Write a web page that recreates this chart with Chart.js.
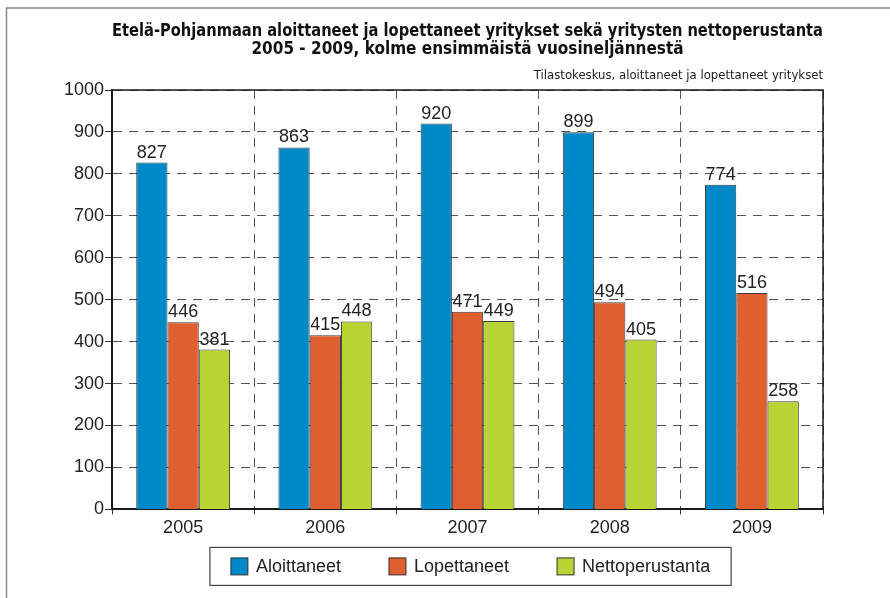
<!DOCTYPE html>
<html lang="fi">
<head>
  <meta charset="UTF-8">
  <title>Etelä-Pohjanmaan aloittaneet ja lopettaneet yritykset</title>
  <script src="https://cdn.jsdelivr.net/npm/chart.js"></script>
  <style>
    html, body { margin: 0; padding: 0; background: white; }
    #wrap { width: 890px; height: 598px; }
  </style>
</head>
<body>
  <div id="wrap"><canvas id="chart"></canvas></div>

  <script>
    const years = ['2005', '2006', '2007', '2008', '2009'];
    const aloittaneet = [827, 863, 920, 899, 774];
    const lopettaneet = [446, 415, 471, 494, 516];
    const nettoperustanta = [381, 448, 449, 405, 258];
    const seriesNames = ['Aloittaneet', 'Lopettaneet', 'Nettoperustanta'];
    const seriesColors = ['#0089c9', '#e05f30', '#b7d334'];

    const FONT = "'Liberation Sans', Arial, sans-serif";
    const NARROW = "'Liberation Sans Narrow', 'Arial Narrow', 'DejaVu Sans Condensed', sans-serif";

    // page frame (grey lines top + left) and white background
    const pageFrame = {
      id: 'pageFrame',
      beforeDraw(chart) {
        const ctx = chart.ctx;
        ctx.save();
        ctx.fillStyle = 'white';
        ctx.fillRect(0, 0, chart.width, chart.height);
        ctx.strokeStyle = '#8a8a8a';
        ctx.lineWidth = 1.5;
        ctx.beginPath();
        ctx.moveTo(6.5, chart.height);
        ctx.lineTo(6.5, 8);
        ctx.lineTo(chart.width, 8);
        ctx.stroke();
        ctx.restore();
      }
    };

    // top + right border of the plot
    const plotFrame = {
      id: 'plotFrame',
      beforeDatasetsDraw(chart) {
        const { ctx, chartArea: a } = chart;
        ctx.save();
        ctx.strokeStyle = '#1a1a1a';
        ctx.lineWidth = 1.5;
        ctx.beginPath();
        ctx.moveTo(a.left, a.top);
        ctx.lineTo(a.right, a.top);
        ctx.lineTo(a.right, a.bottom);
        ctx.stroke();
        ctx.restore();
      }
    };

    const valueLabels = {
      id: 'valueLabels',
      afterDatasetsDraw(chart) {
        const ctx = chart.ctx;
        ctx.save();
        ctx.font = '18px ' + FONT;
        ctx.fillStyle = '#222';
        ctx.textAlign = 'center';
        ctx.textBaseline = 'bottom';
        chart.data.datasets.forEach((ds, i) => {
          chart.getDatasetMeta(i).data.forEach((bar, j) => {
            ctx.fillText(ds.data[j], bar.x, bar.y - 1);
          });
        });
        ctx.restore();
      }
    };

    // boxed legend under the x axis
    const boxLegend = {
      id: 'boxLegend',
      afterDraw(chart) {
        const { ctx, chartArea: a } = chart;
        const sq = 17, gapText = 8, gapItem = 48, padX = 21;
        ctx.save();
        ctx.font = '18px ' + FONT;
        const items = chart.data.datasets.map(ds => ({
          text: ds.label, color: ds.backgroundColor, w: ctx.measureText(ds.label).width
        }));
        let content = items.reduce((s, it) => s + sq + gapText + it.w, 0) + gapItem * (items.length - 1);
        const boxW = content + padX * 2;
        const boxH = 38;
        const boxX = (a.left + a.right) / 2 - boxW / 2 + 3;
        const boxY = a.bottom + 38;
        ctx.strokeStyle = '#444';
        ctx.lineWidth = 1.2;
        ctx.strokeRect(boxX, boxY, boxW, boxH);
        let x = boxX + padX;
        const cy = boxY + boxH / 2;
        items.forEach(it => {
          ctx.fillStyle = it.color;
          ctx.fillRect(x, cy - sq / 2, sq, sq);
          ctx.strokeStyle = '#333';
          ctx.lineWidth = 1;
          ctx.strokeRect(x, cy - sq / 2, sq, sq);
          ctx.fillStyle = '#222';
          ctx.textBaseline = 'middle';
          ctx.fillText(it.text, x + sq + gapText, cy + 1);
          x += sq + gapText + it.w + gapItem;
        });
        ctx.restore();
      }
    };

    const ctx = document.getElementById('chart').getContext('2d');
    new Chart(ctx, {
      type: 'bar',
      data: {
        labels: years,
        datasets: [
          { label: seriesNames[0], data: aloittaneet, backgroundColor: seriesColors[0] },
          { label: seriesNames[1], data: lopettaneet, backgroundColor: seriesColors[1] },
          { label: seriesNames[2], data: nettoperustanta, backgroundColor: seriesColors[2] }
        ]
      },
      options: {
        responsive: true,
        maintainAspectRatio: false,
        animation: false,
        layout: { padding: { left: 63, right: 67, top: 0, bottom: 56 } },
        datasets: {
          bar: {
            categoryPercentage: 0.66,
            barPercentage: 1.0,
            borderWidth: 1,
            borderColor: '#3a3a3a'
          }
        },
        scales: {
          x: {
            grid: {
              color: '#555',
              lineWidth: 1,
              drawTicks: true,
              tickLength: 5,
              tickColor: '#333',
              offset: true
            },
            border: { display: true, color: '#1a1a1a', width: 2, dash: [9, 7] },
            ticks: { color: '#222', font: { family: FONT, size: 18 }, padding: 3 }
          },
          y: {
            min: 0,
            max: 1000,
            grid: {
              color: '#555',
              lineWidth: 1,
              drawTicks: true,
              tickLength: 7,
              tickColor: '#333'
            },
            border: { display: true, color: '#1a1a1a', width: 2, dash: [9, 7] },
            ticks: {
              stepSize: 100,
              color: '#222',
              font: { family: FONT, size: 18 },
              padding: 1,
              callback: v => String(v)
            }
          }
        },
        plugins: {
          legend: { display: false },
          tooltip: { enabled: false },
          title: {
            display: true,
            fullSize: false,
            text: ['Etelä-Pohjanmaan aloittaneet ja lopettaneet yritykset sekä yritysten nettoperustanta',
                   '2005 - 2009, kolme ensimmäistä vuosineljännestä'],
            color: '#111',
            font: { family: NARROW, size: 17, weight: 'bold', lineHeight: 1.1 },
            padding: { top: 22, bottom: 8 }
          },
          subtitle: {
            display: true,
            fullSize: false,
            align: 'end',
            text: 'Tilastokeskus, aloittaneet ja lopettaneet yritykset',
            color: '#222',
            font: { family: NARROW, size: 13, lineHeight: 1.2 },
            padding: { top: 0, bottom: 7 }
          }
        }
      },
      plugins: [pageFrame, plotFrame, valueLabels, boxLegend]
    });
  </script>
</body>
</html>
